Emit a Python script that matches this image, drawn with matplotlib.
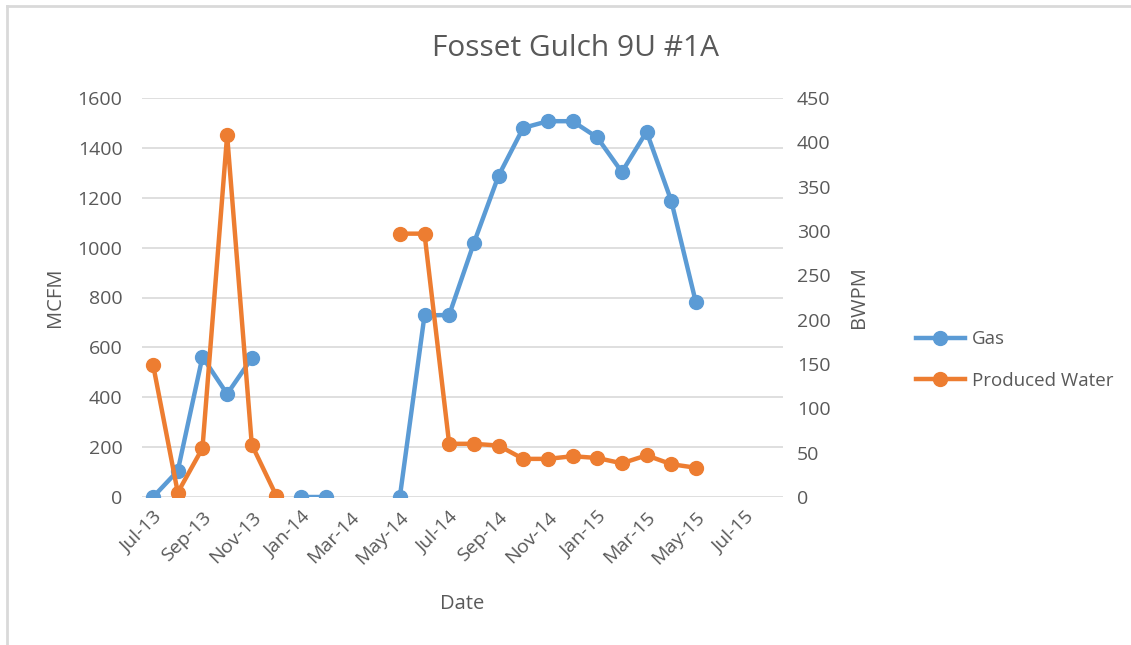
import matplotlib.pyplot as plt
import matplotlib.lines as mlines
import numpy as np

plt.rcParams["font.family"] = ["Open Sans", "DejaVu Sans"]

nan = np.nan

months = ["Jul-13", "Aug-13", "Sep-13", "Oct-13", "Nov-13", "Dec-13",
          "Jan-14", "Feb-14", "Mar-14", "Apr-14", "May-14", "Jun-14",
          "Jul-14", "Aug-14", "Sep-14", "Oct-14", "Nov-14", "Dec-14",
          "Jan-15", "Feb-15", "Mar-15", "Apr-15", "May-15", "Jun-15",
          "Jul-15"]

gas_mcfm = [0, 105, 562, 413, 557, nan,
            0, 0, nan, nan, 0, 728,
            730, 1018, 1288, 1480, 1507, 1507,
            1442, 1303, 1465, 1188, 780]

water_bwpm = [149, 5, 55, 408, 59, 1,
              nan, nan, nan, nan, 297, 297,
              60, 60, 58, 43, 43, 46,
              44, 38, 47, 37, 33]

BLUE = "#5B9BD5"
ORANGE = "#ED7D31"
TEXT = "#595959"
GRID = "#D9D9D9"

fig = plt.figure(figsize=(11.31, 6.45), dpi=100)
ax = fig.add_axes([142 / 1131, 1 - 497 / 645, (783 - 142) / 1131, (497 - 98) / 645])
ax2 = ax.twinx()

x_gas = np.arange(len(gas_mcfm))
x_water = np.arange(len(water_bwpm))

ax.plot(x_gas, gas_mcfm, color=BLUE, lw=3.2, marker="o", ms=10,
        solid_capstyle="round", zorder=3)
ax2.plot(x_water, water_bwpm, color=ORANGE, lw=3.2, marker="o", ms=10,
         solid_capstyle="round", zorder=3)

ax.set_xlim(-0.45, 25.53)
ax.set_ylim(0, 1600)
ax2.set_ylim(0, 450)
ax.set_yticks(np.arange(0, 1601, 200))
ax2.set_yticks(np.arange(0, 451, 50))

tick_pos = np.arange(0, len(months), 2)
ax.set_xticks(tick_pos)
ax.set_xticklabels([months[i] for i in tick_pos], rotation=45, ha="right",
                   rotation_mode="anchor")

ax.grid(axis="y", color=GRID, lw=1.2)
ax.set_axisbelow(True)
for a in (ax, ax2):
    for s in a.spines.values():
        s.set_visible(False)
    a.tick_params(length=0, labelsize=14, colors=TEXT)
ax.tick_params(axis="y", pad=14)
ax2.tick_params(axis="y", pad=10)
ax.tick_params(axis="x", pad=8)

ax.set_ylabel("MCFM", fontsize=14.5, color=TEXT, labelpad=9)
ax2.set_ylabel("BWPM", fontsize=14.5, color=TEXT, labelpad=13)
ax.set_xlabel("Date", fontsize=14.5, color=TEXT, labelpad=19)
fig.text(575 / 1131, 1 - 48 / 645, "Fosset Gulch 9U #1A", fontsize=21.5,
         color=TEXT, ha="center", va="center")

handles = [
    mlines.Line2D([], [], color=BLUE, lw=3.2, marker="o", ms=10),
    mlines.Line2D([], [], color=ORANGE, lw=3.2, marker="o", ms=10),
]
fig.legend(handles, ["Gas", "Produced Water"], loc="center left",
           bbox_to_anchor=(899 / 1131, 1 - 360 / 645), frameon=False,
           fontsize=13.5, labelcolor=TEXT, handlelength=2.6,
           handletextpad=0.37, labelspacing=1.25)

# chart frame
fig.add_artist(mlines.Line2D([7 / 1131, 7 / 1131], [0, 1 - 6 / 645],
                             color=GRID, lw=2, transform=fig.transFigure))
fig.add_artist(mlines.Line2D([7 / 1131, 1], [1 - 6 / 645, 1 - 6 / 645],
                             color=GRID, lw=2, transform=fig.transFigure))

fig.savefig("out.png", dpi=100, facecolor="white")
